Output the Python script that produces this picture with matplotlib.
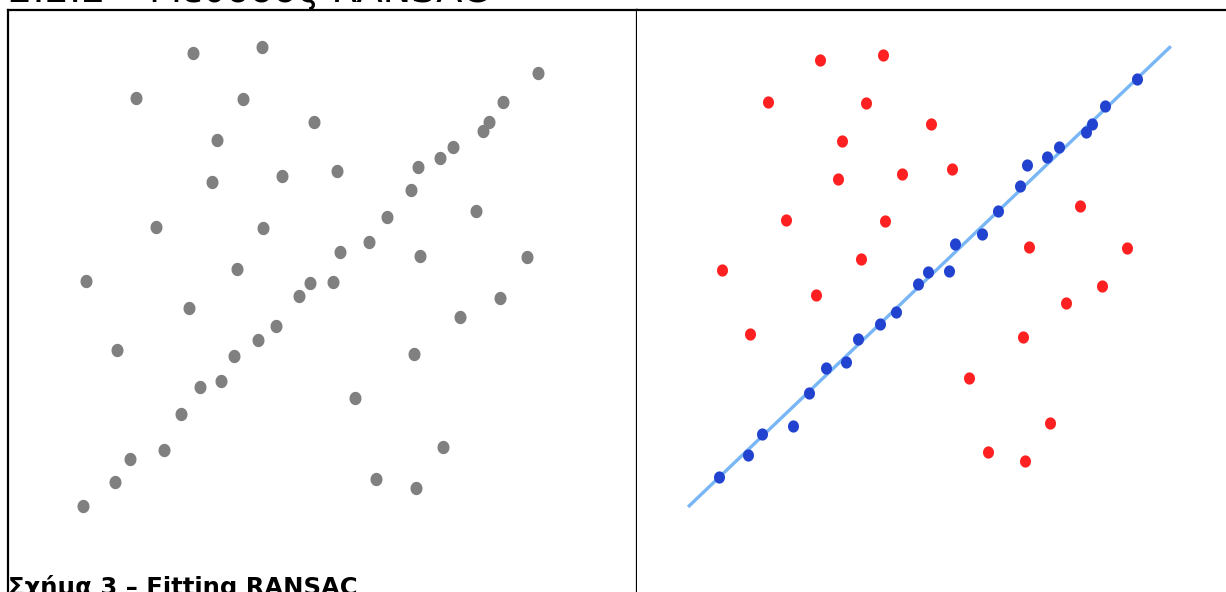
import numpy as np
import matplotlib
matplotlib.use('Agg')
import matplotlib.pyplot as plt
from matplotlib.path import Path

# Points (same data in both panels)
OUT_X = [2.42, 3.93, 1.17, 3.52, 5.08, 2.95, 2.84, 4.37, 5.58, 1.60, 3.96, 3.39, 0.07,
         2.33, 0.75, 8.64, 7.41, 9.76, 9.17, 8.29, 7.28, 5.98, 7.91, 6.44, 7.32]
OUT_Y = [9.87, 10.00, 8.89, 8.87, 8.37, 7.97, 7.06, 7.19, 7.30, 6.08, 6.06, 5.16, 4.90,
         4.31, 3.40, 6.43, 5.45, 5.43, 4.53, 4.12, 3.31, 2.35, 1.29, 0.59, 0.39]

IN_X = [0.00, 0.70, 1.03, 1.78, 2.15, 2.57, 3.03, 3.32, 3.85, 4.24, 4.75, 4.99, 5.50,
        5.65, 6.29, 6.68, 7.21, 7.36, 7.85, 8.13, 8.79, 8.92, 9.23, 10.00]
IN_Y = [0.00, 0.52, 1.02, 1.22, 2.00, 2.59, 2.72, 3.27, 3.62, 3.92, 4.58, 4.86, 4.88,
        5.53, 5.75, 6.30, 6.89, 7.39, 7.58, 7.82, 8.17, 8.37, 8.80, 9.43]

# RANSAC model line
LINE_SLOPE = 0.945
LINE_INTERCEPT = -0.01
LINE_X = [-0.74, 10.81]

HEADING = '2.2.2 – Μέθοδος RANSAC'
CAPTION = 'Σχήμα 3 – Fitting RANSAC'

W, H = 1226, 592


def px_box(x0, y0, x1, y1):
    """Figure rectangle from pixel edges (y measured from top)."""
    return [x0 / W, 1 - y1 / H, (x1 - x0) / W, (y1 - y0) / H]


# slightly tall ellipse, the screenshot was stretched a bit
t = np.linspace(0, 2 * np.pi, 60)
ELLIPSE = Path(np.column_stack([0.9 * np.cos(t), np.sin(t)]), closed=True)

fig = plt.figure(figsize=(W / 100, H / 100), dpi=100)
fig.patch.set_facecolor('white')

# Left panel: raw points
ax1 = fig.add_axes(px_box(8, 10, 637, 592))
ax1.plot(OUT_X + IN_X, OUT_Y + IN_Y, linestyle='none', marker=ELLIPSE,
         markersize=9.6, color='#808080', markeredgewidth=0)
ax1.set_xlim(-1.648, 12.176)
ax1.set_ylim(-1.874, 10.806)

# Right panel: inliers, outliers and fitted line
ax2 = fig.add_axes(px_box(637, 10, 1226, 592))
lx = np.array(LINE_X)
ax2.plot(lx, LINE_SLOPE * lx + LINE_INTERCEPT, color='#78b6f6', linewidth=2.4,
         solid_capstyle='butt', zorder=1)
ax2.plot(OUT_X, OUT_Y, linestyle='none', marker=ELLIPSE, markersize=8.8,
         color='#ff2121', markeredgewidth=0, zorder=2)
ax2.plot(IN_X, IN_Y, linestyle='none', marker=ELLIPSE, markersize=8.8,
         color='#2243cf', markeredgewidth=0, zorder=3)
ax2.set_xlim(-1.962, 12.13)
ax2.set_ylim(-2.725, 11.066)

for ax in (ax1, ax2):
    ax.set_xticks([])
    ax.set_yticks([])
    for s in ax.spines.values():
        s.set_linewidth(1.6)
        s.set_color('black')
    ax.spines['bottom'].set_visible(False)
ax2.spines['left'].set_visible(False)
ax2.spines['right'].set_visible(False)

fig.text(8 / W, 1 - 2 / H, HEADING, fontsize=27.5, va='baseline', ha='left',
         family='DejaVu Sans')
fig.text(8 / W, -3 / H, CAPTION, fontsize=17.5, fontweight='bold', va='baseline',
         ha='left', family='DejaVu Sans', zorder=10)

fig.savefig('out.png', dpi=100, facecolor='white')
